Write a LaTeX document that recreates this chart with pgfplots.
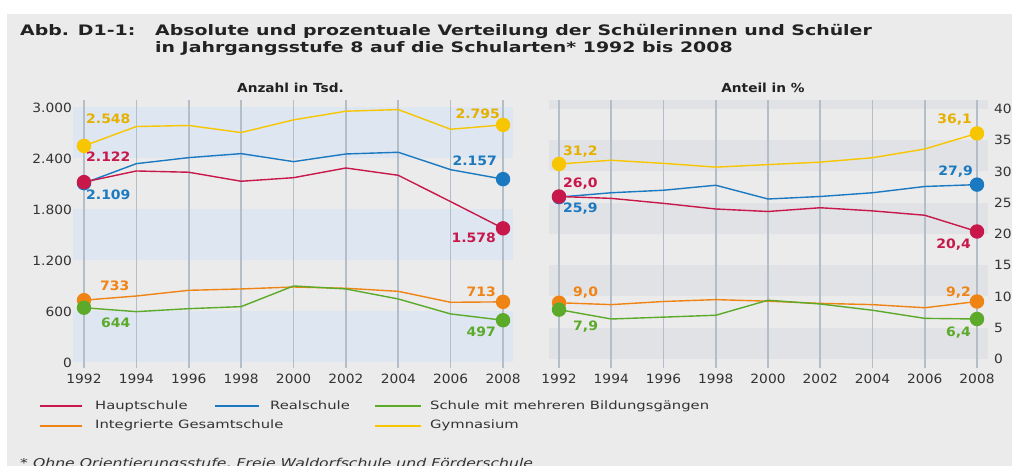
\documentclass[border=0pt]{standalone}
\usepackage{pgfplots}
\pgfplotsset{compat=1.18}
\usepackage{fontspec}
\setmainfont{DejaVu Sans}
\newfontfamily\titlefont[FakeStretch=1.31]{DejaVu Sans}
\newfontfamily\legfont[FakeStretch=1.29]{DejaVu Sans}
\newfontfamily\tickfont[FakeStretch=1.08]{DejaVu Sans}
\newfontfamily\headfont[FakeStretch=1.1]{DejaVu Sans}

\definecolor{bg}{HTML}{EBEBEB}
\definecolor{bandblue}{HTML}{DDE6F1}
\definecolor{bandgray}{HTML}{E1E2E5}
\definecolor{gridc}{HTML}{B3BEC8}
\definecolor{hs}{HTML}{C8174B}
\definecolor{rs}{HTML}{1B79C2}
\definecolor{smb}{HTML}{5BAA2A}
\definecolor{igs}{HTML}{EF8414}
\definecolor{gym}{HTML}{F7C600}
\definecolor{gymtxt}{HTML}{E5B000}
\definecolor{tickc}{HTML}{333333}
\definecolor{titlec}{HTML}{222222}

\pgfplotsset{
  panel/.style={
    scale only axis, height=268bp, clip=false, set layers,
    axis line style={draw=none}, major tick length=0pt,
    xtick={1992,1994,...,2008},
    xticklabels={1992,1994,1996,1998,2000,2002,2004,2006,2008},
    xmajorgrids, grid style={gridc, line width=1.6bp},
    scaled ticks=false,
    tick label style={font=\tickfont\fontsize{12.8}{15}\selectfont, text=tickc, inner sep=0pt},
    xticklabel style={anchor=north, yshift=-6bp},
    every axis plot/.append style={line width=1.4bp, line join=round, mark=*, mark indices={1,9}, mark size=6.5bp},
  },
}
\tikzset{lbl/.style={font=\tickfont\bfseries\fontsize{13}{15}\selectfont, inner sep=0pt}}

\begin{document}
\begin{tikzpicture}
% left panel: Anzahl in Tsd.
\begin{axis}[panel, at={(73bp,98bp)}, anchor=south west, width=440bp,
  xmin=1991.58, xmax=2008.38, ymin=-65, ymax=3088,
  ytick={0,600,1200,1800,2400,3000},
  yticklabels={0,600,1.200,1.800,2.400,3.000},
  yticklabel style={anchor=east, xshift=-1bp}]
\begin{pgfonlayer}{axis background}
% page background (white margin, grey panel)
\fill[white] ([shift={(-73bp,-98bp)}]rel axis cs:0,0) rectangle ([shift={(939bp,368bp)}]rel axis cs:0,0);
\fill[bg] ([shift={(-66bp,-98bp)}]rel axis cs:0,0) rectangle ([shift={(939bp,354bp)}]rel axis cs:0,0);
\fill[bandblue] (axis cs:1991.58,0) rectangle (axis cs:2008.38,600);
\fill[bandblue] (axis cs:1991.58,1200) rectangle (axis cs:2008.38,1800);
\fill[bandblue] (axis cs:1991.58,2400) rectangle (axis cs:2008.38,3000);
\end{pgfonlayer}
\addplot[gym, mark options={draw=none, fill=gym}] coordinates {(1992,2548) (1994,2776) (1996,2788) (1998,2705) (2000,2854) (2002,2956) (2004,2975) (2006,2744) (2008,2795)};
\addplot[rs, mark options={draw=none, fill=rs}] coordinates {(1992,2109) (1994,2339) (1996,2410) (1998,2457) (2000,2363) (2002,2453) (2004,2473) (2006,2268) (2008,2157)};
\addplot[hs, mark options={draw=none, fill=hs}] coordinates {(1992,2122) (1994,2253) (1996,2238) (1998,2132) (2000,2174) (2002,2288) (2004,2202) (2006,1892) (2008,1578)};
\addplot[igs, mark options={draw=none, fill=igs}] coordinates {(1992,733) (1994,782) (1996,849) (1998,865) (2000,888) (2002,873) (2004,837) (2006,708) (2008,713)};
\addplot[smb, mark options={draw=none, fill=smb}] coordinates {(1992,644) (1994,598) (1996,633) (1998,657) (2000,900) (2002,865) (2004,747) (2006,571) (2008,497)};
\node[lbl, text=gymtxt, anchor=mid west, xshift=2bp, yshift=25bp] at (axis cs:1992,2548) {2.548};
\node[lbl, text=hs, anchor=mid west, xshift=2bp, yshift=23bp] at (axis cs:1992,2122) {2.122};
\node[lbl, text=rs, anchor=mid west, xshift=2bp, yshift=-14bp] at (axis cs:1992,2109) {2.109};
\node[lbl, text=igs, anchor=mid west, xshift=16bp, yshift=12bp] at (axis cs:1992,733) {733};
\node[lbl, text=smb, anchor=mid west, xshift=17bp, yshift=-17bp] at (axis cs:1992,644) {644};
\node[lbl, text=gymtxt, anchor=mid east, xshift=-3bp, yshift=9bp] at (axis cs:2008,2795) {2.795};
\node[lbl, text=rs, anchor=mid east, xshift=-6bp, yshift=16bp] at (axis cs:2008,2157) {2.157};
\node[lbl, text=hs, anchor=mid east, xshift=-7bp, yshift=-11bp] at (axis cs:2008,1578) {1.578};
\node[lbl, text=igs, anchor=mid east, xshift=-7bp, yshift=8bp] at (axis cs:2008,713) {713};
\node[lbl, text=smb, anchor=mid east, xshift=-7bp, yshift=-14bp] at (axis cs:2008,497) {497};
\end{axis}

% right panel: Anteil in %
\begin{axis}[panel, at={(549bp,98bp)}, anchor=south west, width=439bp,
  xmin=1991.617, xmax=2008.421, ymin=-1.44, ymax=41.44,
  ytick={0,5,...,40},
  yticklabels={0,5,10,15,20,25,30,35,40},
  yticklabel pos=right,
  yticklabel style={anchor=west, xshift=6bp}]
\begin{pgfonlayer}{axis background}
\fill[bandgray] (axis cs:1991.617,0) rectangle (axis cs:2008.421,5);
\fill[bandgray] (axis cs:1991.617,10) rectangle (axis cs:2008.421,15);
\fill[bandgray] (axis cs:1991.617,20) rectangle (axis cs:2008.421,25);
\fill[bandgray] (axis cs:1991.617,30) rectangle (axis cs:2008.421,35);
\fill[bandgray] (axis cs:1991.617,40) rectangle (axis cs:2008.421,41.44);
\end{pgfonlayer}
\addplot[gym, mark options={draw=none, fill=gym}] coordinates {(1992,31.2) (1994,31.8) (1996,31.3) (1998,30.7) (2000,31.1) (2002,31.5) (2004,32.2) (2006,33.6) (2008,36.1)};
\addplot[rs, mark options={draw=none, fill=rs}] coordinates {(1992,25.9) (1994,26.6) (1996,27.0) (1998,27.8) (2000,25.6) (2002,26.0) (2004,26.6) (2006,27.6) (2008,27.9)};
\addplot[hs, mark options={draw=none, fill=hs}] coordinates {(1992,26.0) (1994,25.7) (1996,24.9) (1998,24.0) (2000,23.6) (2002,24.2) (2004,23.7) (2006,23.0) (2008,20.4)};
\addplot[igs, mark options={draw=none, fill=igs}] coordinates {(1992,9.0) (1994,8.7) (1996,9.2) (1998,9.5) (2000,9.25) (2002,8.9) (2004,8.7) (2006,8.2) (2008,9.2)};
\addplot[smb, mark options={draw=none, fill=smb}] coordinates {(1992,7.9) (1994,6.4) (1996,6.7) (1998,7.0) (2000,9.4) (2002,8.8) (2004,7.8) (2006,6.5) (2008,6.4)};
\node[lbl, text=gymtxt, anchor=mid west, xshift=4bp, yshift=11bp] at (axis cs:1992,31.2) {31,2};
\node[lbl, text=hs, anchor=mid west, xshift=4bp, yshift=11.5bp] at (axis cs:1992,26.0) {26,0};
\node[lbl, text=rs, anchor=mid west, xshift=4bp, yshift=-13bp] at (axis cs:1992,25.9) {25,9};
\node[lbl, text=igs, anchor=mid west, xshift=14bp, yshift=9bp] at (axis cs:1992,9.0) {9,0};
\node[lbl, text=smb, anchor=mid west, xshift=14bp, yshift=-18bp] at (axis cs:1992,7.9) {7,9};
\node[lbl, text=gymtxt, anchor=mid east, xshift=-5bp, yshift=13bp] at (axis cs:2008,36.1) {36,1};
\node[lbl, text=rs, anchor=mid east, xshift=-4bp, yshift=12bp] at (axis cs:2008,27.9) {27,9};
\node[lbl, text=hs, anchor=mid east, xshift=-6bp, yshift=-14bp] at (axis cs:2008,20.4) {20,4};
\node[lbl, text=igs, anchor=mid east, xshift=-6bp, yshift=7.5bp] at (axis cs:2008,9.2) {9,2};
\node[lbl, text=smb, anchor=mid east, xshift=-6bp, yshift=-15bp] at (axis cs:2008,6.4) {6,4};
\end{axis}

\begin{scope}[x=1bp,y=1bp]
% title
\node[anchor=base west, inner sep=0pt, text=titlec, font=\titlefont\bfseries\fontsize{14.5}{17}\selectfont] at (20,430.5) {Abb. D1-1:};
\node[anchor=base west, inner sep=0pt, text=titlec, font=\titlefont\bfseries\fontsize{14.5}{17}\selectfont] at (155,430.5) {Absolute und prozentuale Verteilung der Schülerinnen und Schüler};
\node[anchor=base west, inner sep=0pt, text=titlec, font=\titlefont\bfseries\fontsize{14.5}{17}\selectfont] at (155,413.5) {in Jahrgangsstufe 8 auf die Schularten* 1992 bis 2008};

% panel headings
\node[anchor=base, inner sep=0pt, text=titlec, font=\headfont\bfseries\fontsize{12.5}{15}\selectfont] at (290.5,373.5) {Anzahl in Tsd.};
\node[anchor=base, inner sep=0pt, text=titlec, font=\headfont\bfseries\fontsize{12.5}{15}\selectfont] at (763,373.5) {Anteil in \%};

% legend
\begin{scope}[line width=2.4bp]
\draw[hs] (40,60) -- (82,60);
\draw[rs] (215,60) -- (259,60);
\draw[smb] (375,60) -- (421,60);
\draw[igs] (40,40) -- (82,40);
\draw[gym] (375,40) -- (421,40);
\end{scope}
\begin{scope}[every node/.style={anchor=base west, inner sep=0pt, text=tickc, font=\legfont\fontsize{11.5}{14}\selectfont}]
\node at (95,56.5) {Hauptschule};
\node at (270,56.5) {Realschule};
\node at (430,56.5) {Schule mit mehreren Bildungsgängen};
\node at (95,37.7) {Integrierte Gesamtschule};
\node at (430,37.7) {Gymnasium};
\node[font=\legfont\itshape\fontsize{12.2}{14}\selectfont] at (20,-1.5) {* Ohne Orientierungsstufe, Freie Waldorfschule und Förderschule};
\end{scope}
\end{scope}

\pgfresetboundingbox
\path (0bp,0bp) rectangle (1012bp,466bp);
\end{tikzpicture}
\end{document}
